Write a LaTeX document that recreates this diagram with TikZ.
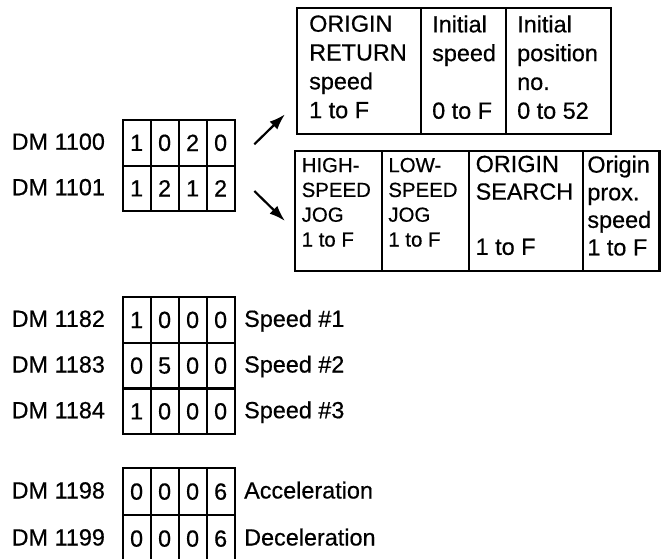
\documentclass[tikz,border=0pt]{standalone}
\usepackage{fontspec}
\setmainfont{Liberation Sans}[FakeBold=0.5]
\usetikzlibrary{arrows.meta,positioning}

\begin{document}
\begin{tikzpicture}[
      x=1pt,y=-1pt,
      node distance=4pt,
      big/.style={font=\fontsize{23.4}{28.8}\selectfont},
      mid/.style={font=\fontsize{23.4}{27.6}\selectfont},
      small/.style={font=\fontsize{20.4}{24.8}\selectfont},
      boxcell/.style={draw,line width=2.2pt,anchor=north west,inner sep=0pt},
      regcell/.style={boxcell,big,minimum width=28pt},
      regname/.style={big,anchor=base west,inner sep=0pt},
      txt/.style={align=left,inner sep=0pt},
      arrow/.style={-{Latex[length=16pt,width=11pt]},line width=2.2pt}
    ]
      \useasboundingbox (0,0) rectangle (661,559);
      % registers
      \foreach \reg/\ytop/\h/\vals in {1100/119/45.5/{1,0,2,0},1101/164.5/45.5/{1,2,1,2},
          1182/296/45.7/{1,0,0,0},1183/341.7/45.7/{0,5,0,0},1184/387.4/45.7/{1,0,0,0},
          1198/467/47/{0,0,0,6},1199/514/47/{0,0,0,6}}{
        \node[regname] (dm\reg) at (11.5,\ytop+\h/2+8) {DM \reg};
        \foreach \d [count=\i from 0] in \vals
          \node[regcell,minimum height=\h pt] (dm\reg-\i) at (121.5+28*\i,\ytop) {\d};
      }
      \foreach \reg/\ytop/\h/\note in {1182/296/45.7/Speed \#1,1183/341.7/45.7/Speed \#2,
          1184/387.4/45.7/Speed \#3,1198/467/47/Acceleration,1199/514/47/Deceleration}
        \node[regname] (note\reg) at (244,\ytop+\h/2+8) {\note};
      % DM 1100 fields
      \node[boxcell,minimum width=124pt,minimum height=126pt] (retspeed) at (296,7) {};
      \node[boxcell,minimum width=85pt,minimum height=126pt] (initspeed) at (420,7) {};
      \node[boxcell,minimum width=105pt,minimum height=126pt] (initpos) at (505,7) {};
      \node[txt,big,below right=8.2pt and 13pt of retspeed.north west] (retspeedtxt)
        {ORIGIN\\RETURN\\speed\\1 to F};
      \node[txt,big,below right=8.2pt and 12pt of initspeed.north west] (initspeedtxt)
        {Initial\\speed\\~\\0 to F};
      \node[txt,big,below right=8.2pt and 12pt of initpos.north west] (initpostxt)
        {Initial\\position\\no.\\0 to 52};
      % DM 1101 fields
      \node[boxcell,minimum width=86.7pt,minimum height=120pt] (highjog) at (294,150) {};
      \node[boxcell,minimum width=87.3pt,minimum height=120pt] (lowjog) at (380.7,150) {};
      \node[boxcell,minimum width=113.7pt,minimum height=120pt] (search) at (468,150) {};
      \node[boxcell,minimum width=76.6pt,minimum height=120pt] (proxspeed) at (581.7,150) {};
      \node[txt,small,below right=7.7pt and 7.5pt of highjog.north west] (highjogtxt)
        {HIGH-\\SPEED\\JOG\\1 to F};
      \node[txt,small,below right=7.7pt and 7.5pt of lowjog.north west] (lowjogtxt)
        {LOW-\\SPEED\\JOG\\1 to F};
      \node[txt,mid,below right=5.5pt and 7.5pt of search.north west] (searchtxt)
        {ORIGIN\\SEARCH\\~\\1 to F};
      \node[txt,mid,below right=5.5pt and 5.5pt of proxspeed.north west] (proxspeedtxt)
        {Origin\\prox.\\speed\\1 to F};
      % arrows
      \coordinate (upfrom) at (254.3,144.3);
      \coordinate (upto) at (285,114.3);
      \coordinate (downfrom) at (254.3,191);
      \coordinate (downto) at (285,221);
      \draw[arrow] (upfrom) -- (upto);
      \draw[arrow] (downfrom) -- (downto);
    \end{tikzpicture}
\end{document}
